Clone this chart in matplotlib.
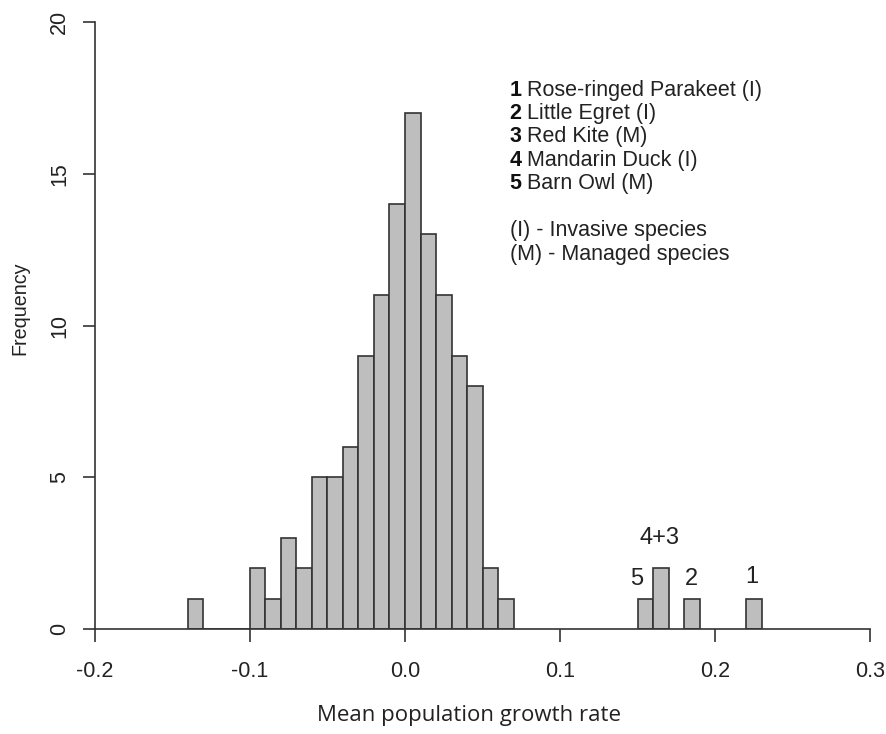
import numpy as np
import matplotlib.pyplot as plt

# histogram of mean population growth rates, bins of width 0.01
bin_left = [-0.14, -0.13, -0.12, -0.11, -0.10, -0.09, -0.08, -0.07, -0.06, -0.05,
            -0.04, -0.03, -0.02, -0.01, 0.00, 0.01, 0.02, 0.03, 0.04, 0.05, 0.06,
            0.15, 0.16, 0.18, 0.22]
counts = [1, 0, 0, 0, 2, 1, 3, 2, 5, 5,
          6, 9, 11, 14, 17, 13, 11, 9, 8, 2, 1,
          1, 2, 1, 1]
bin_width = 0.01

# species markers above the outlier bars
marks = ['5', '2', '1', '4+3']
mark_x = [0.1497, 0.1845, 0.224, 0.164]
mark_y = [1.65, 1.65, 1.7, 3.0]

key_lines = [('1', 'Rose-ringed Parakeet (I)'),
             ('2', 'Little Egret (I)'),
             ('3', 'Red Kite (M)'),
             ('4', 'Mandarin Duck (I)'),
             ('5', 'Barn Owl (M)')]
notes = ['(I) - Invasive species', '(M) - Managed species']

plt.rcParams['font.family'] = ['Liberation Sans', 'DejaVu Sans']

fig = plt.figure(figsize=(8.87, 7.34), dpi=100)
ax = fig.add_axes([0.107, 0.143, 0.874, 0.827])

ax.bar(bin_left, counts, width=bin_width, align='edge',
       color='#bebebe', edgecolor='#333333', linewidth=1.2)

ax.set_xlim(-0.2, 0.3)
ax.set_ylim(0, 20)
ax.set_xticks(np.arange(-0.2, 0.31, 0.1))
ax.set_xticklabels(['-0.2', '-0.1', '0.0', '0.1', '0.2', '0.3'])
ax.set_yticks([0, 5, 10, 15, 20])
ax.set_yticklabels(['0', '5', '10', '15', '20'], rotation=90, va='center')

for s in ['top', 'right']:
    ax.spines[s].set_visible(False)
for s in ['left', 'bottom']:
    ax.spines[s].set_color('#333333')
    ax.spines[s].set_linewidth(1.2)
ax.tick_params(direction='out', length=9, width=1.2, color='#333333',
               labelsize=15.5, labelcolor='#222222')
ax.tick_params(axis='y', pad=9)
ax.tick_params(axis='x', pad=14)

ax.set_ylabel('Frequency', fontsize=14.2, color='#222222')
ax.yaxis.set_label_coords(-0.085, 0.529)
ax.set_xlabel('Mean population growth rate', fontsize=16, color='#222222',
              family=['Open Sans', 'DejaVu Sans'])
ax.xaxis.set_label_coords(0.483, -0.125)

for m, x, y in zip(marks, mark_x, mark_y):
    ax.text(x, y, m, fontsize=17, color='#222222', ha='center', va='center')

# species key
y0 = 0.888
dy = 0.0387
for i, (num, name) in enumerate(key_lines):
    ax.text(0.535, y0 - i * dy, num, transform=ax.transAxes, fontsize=15.5,
            fontweight='bold', color='#111111', va='center')
    ax.text(0.557, y0 - i * dy, name, transform=ax.transAxes, fontsize=15.5,
            color='#222222', va='center')
for i, t in enumerate(notes):
    ax.text(0.535, y0 - (6.0 + i) * dy, t, transform=ax.transAxes,
            fontsize=15.5, color='#222222', va='center')

fig.savefig('out.png', dpi=100)
